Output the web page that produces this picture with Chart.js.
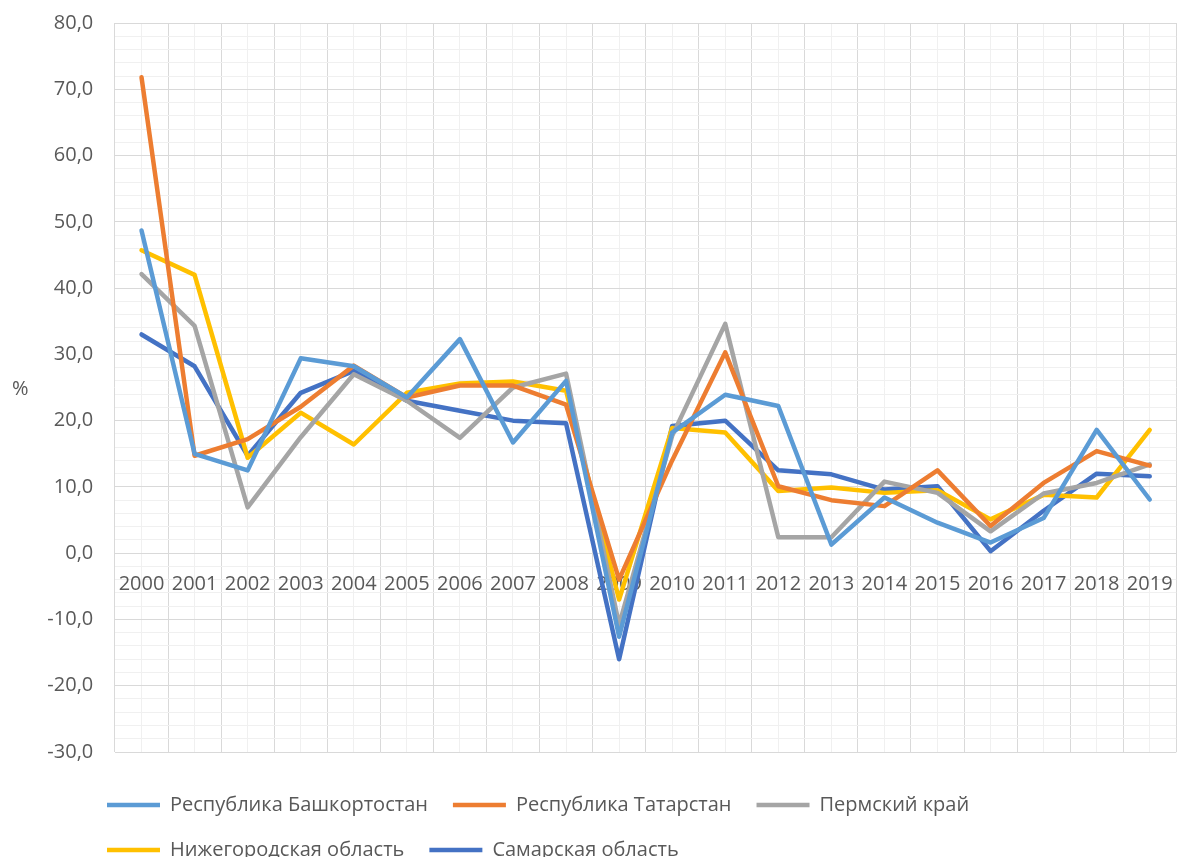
<!DOCTYPE html>
<html>
<head>
<meta charset="utf-8">
<script src="https://cdn.jsdelivr.net/npm/chart.js@4.4.1/dist/chart.umd.min.js"></script>
<style>
    html, body { margin: 0; padding: 0; background: #fff; overflow: hidden; }
    #wrap { position: relative; width: 1192px; height: 857px; }
    #unit { position: absolute; left: 12px; top: 374px; font: 20px "Open Sans", sans-serif; color: #595959; }
</style>
</head>
<body>
<div id="wrap">
    <canvas id="myChart" width="1192" height="857"></canvas>
    <div id="unit">%</div>
</div>
<script>
var years = ['2000', '2001', '2002', '2003', '2004', '2005', '2006', '2007', '2008', '2009',
             '2010', '2011', '2012', '2013', '2014', '2015', '2016', '2017', '2018', '2019'];
var seriesNames = ['Республика Башкортостан', 'Республика Татарстан', 'Пермский край',
                   'Нижегородская область', 'Самарская область'];
var bashkortostan = [48.7, 15.0, 12.5, 29.4, 28.2, 23.5, 32.3, 16.7, 26.0, -12.6, 18.2, 23.9, 22.2, 1.3, 8.4, 4.6, 1.6, 5.3, 18.6, 8.1];
var tatarstan = [71.8, 14.7, 17.2, 22.1, 28.3, 23.5, 25.3, 25.3, 22.4, -4.0, 14.0, 30.3, 10.1, 8.0, 7.1, 12.5, 4.1, 10.6, 15.4, 13.2];
var perm = [42.1, 34.3, 6.9, 17.5, 27.0, 23.0, 17.4, 25.0, 27.1, -10.8, 17.7, 34.6, 2.4, 2.4, 10.8, 9.1, 3.3, 9.0, 10.6, 13.4];
var nizhny = [45.7, 42.0, 14.4, 21.2, 16.4, 24.2, 25.6, 25.9, 24.5, -7.0, 18.9, 18.2, 9.4, 9.9, 9.1, 9.5, 5.1, 8.8, 8.4, 18.6];
var samara = [33.0, 28.2, 14.7, 24.2, 27.5, 23.0, 21.5, 20.0, 19.6, -16.0, 19.2, 20.0, 12.5, 11.9, 9.6, 10.1, 0.3, 6.4, 12.0, 11.6];
var yMin = -30;
var yMax = 80;

var colors = ['#5B9BD5', '#ED7D31', '#A5A5A5', '#FFC000', '#4472C4'];
var values = [bashkortostan, tatarstan, perm, nizhny, samara];

function makeDatasets() {
    var out = [];
    for (var i = 0; i < values.length; i++) {
        out.push({
            label: seriesNames[i],
            data: values[i],
            borderColor: colors[i],
            backgroundColor: colors[i],
            borderWidth: 4.5,
            borderCapStyle: 'round',
            borderJoinStyle: 'round',
            pointRadius: 0,
            pointHoverRadius: 0,
            tension: 0,
            xAxisID: 'x',
            yAxisID: 'y'
        });
    }
    return out;
}

const font = { family: '"Open Sans", sans-serif', size: 20 };

new Chart(document.getElementById('myChart'), {
    type: 'line',
    data: {
        labels: years,
        datasets: makeDatasets()
    },
    options: {
        responsive: false,
        animation: false,
        layout: { autoPadding: false, padding: { left: 82, top: 23, right: 0, bottom: -13 } },
        plugins: {
            tooltip: { enabled: false },
            legend: {
                position: 'bottom',
                align: 'start',
                labels: {
                    usePointStyle: true,
                    pointStyle: 'line',
                    pointStyleWidth: 53,
                    padding: 25,
                    color: '#595959',
                    font: font
                }
            }
        },
        scales: {
            x: {
                type: 'category',
                position: { y: 0 },
                offset: true,
                grid: { offset: true, color: '#d9d9d9', drawTicks: false },
                border: { display: false },
                ticks: { color: '#595959', font: font, padding: 19, autoSkip: false, maxRotation: 0 },
                afterFit: function (scale) { scale.height = 0; }
            },
            xMinor: {
                type: 'category',
                position: 'bottom',
                offset: true,
                z: -1,
                grid: { offset: false, color: '#f0f0f0', drawTicks: false },
                border: { display: false },
                ticks: { display: false },
                afterFit: function (scale) { scale.height = 18; }
            },
            y: {
                min: yMin,
                max: yMax,
                // labels end about 22px left of the plot edge
                position: { x: -0.91 },
                grid: { color: '#d9d9d9', drawTicks: false },
                border: { display: false },
                ticks: {
                    stepSize: 10,
                    color: '#595959',
                    font: font,
                    callback: function (v) { return v.toFixed(1).replace('.', ','); }
                },
                afterFit: function (scale) { scale.width = 0; }
            },
            yMinor: {
                min: yMin,
                max: yMax,
                position: 'left',
                z: -1,
                grid: {
                    color: function (ctx) { return ctx.tick.value % 10 === 0 ? 'rgba(0,0,0,0)' : '#f0f0f0'; },
                    drawTicks: false
                },
                border: { display: false },
                ticks: { display: false, stepSize: 2 },
                afterFit: function (scale) { scale.width = 33; }
            }
        }
    }
});
</script>
</body>
</html>
